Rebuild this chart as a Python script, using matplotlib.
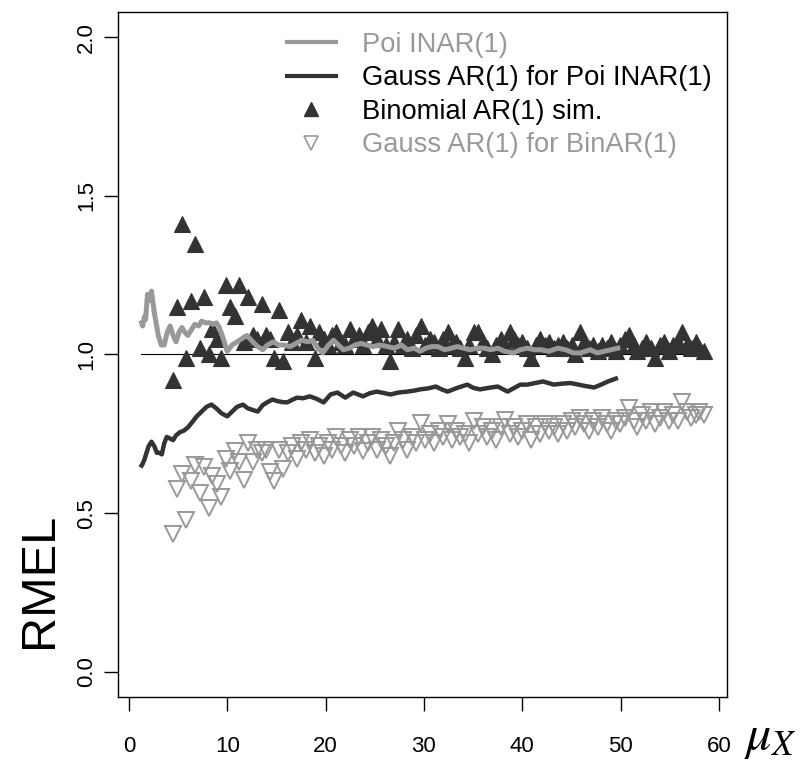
import matplotlib
matplotlib.use('Agg')
import numpy as np
import matplotlib.pyplot as plt
from matplotlib.lines import Line2D

plt.rcParams['font.family'] = ['Liberation Sans', 'DejaVu Sans']

# ---- data ------------------------------------------------------------------
# Poi INAR(1)
poi_x = [1.3, 1.4, 1.6, 1.7, 1.9, 2.1, 2.3, 2.6, 3.0, 3.3, 3.6, 3.9, 4.2, 4.5,
         4.8, 5.1, 5.4, 5.7, 6.0, 6.4, 6.7, 7.1, 7.4, 7.8, 8.2, 8.6, 8.9, 9.2,
         9.6, 10.0, 10.5, 11.0, 11.5, 12.0, 12.6, 13.1, 13.6, 14.1, 14.7, 15.2,
         15.7, 16.4, 17.0, 17.6, 18.2, 18.7, 19.2, 19.7, 20.3, 20.8, 21.3, 21.8,
         22.4, 23.0, 23.6, 24.2, 24.8, 25.5, 26.3, 27.0, 27.7, 28.3, 29.0, 29.6,
         30.2, 30.8, 31.4, 32.1, 32.8, 33.4, 34.0, 34.7, 35.4, 36.1, 36.8, 37.5,
         38.2, 39.1, 39.8, 40.5, 41.2, 41.9, 42.7, 43.6, 44.4, 45.2, 45.9, 46.9,
         47.6, 48.3, 49.0, 49.7]
poi_y = [1.10, 1.09, 1.12, 1.11, 1.19, 1.17, 1.20, 1.13, 1.06, 1.03, 1.03, 1.07,
         1.09, 1.06, 1.04, 1.07, 1.085, 1.07, 1.06, 1.08, 1.095, 1.09, 1.105,
         1.10, 1.10, 1.095, 1.10, 1.085, 1.05, 1.01, 1.03, 1.04, 1.05, 1.06,
         1.04, 1.025, 1.015, 1.03, 1.04, 1.03, 1.03, 1.025, 1.035, 1.045, 1.04,
         1.045, 1.02, 1.005, 1.03, 1.045, 1.03, 1.015, 1.02, 1.03, 1.035, 1.03,
         1.025, 1.03, 1.025, 1.02, 1.03, 1.015, 1.02, 1.01, 1.02, 1.025, 1.025,
         1.015, 1.02, 1.025, 1.02, 1.015, 1.02, 1.02, 1.015, 1.02, 1.01, 1.005,
         1.015, 1.02, 1.015, 1.015, 1.01, 1.02, 1.015, 1.005, 1.005, 1.015,
         1.005, 1.01, 1.015, 1.02]

# Gauss AR(1) for Poi INAR(1)
gpoi_x = [1.3, 1.4, 1.6, 1.8, 2.0, 2.3, 2.6, 2.85, 3.1, 3.35, 3.6, 3.85, 4.2,
          4.5, 4.8, 5.2, 5.6, 6.0, 6.4, 6.9, 7.4, 7.9, 8.4, 8.9, 9.4, 10.0,
          10.5, 11.0, 11.6, 12.1, 12.6, 13.1, 13.6, 14.1, 14.6, 15.1, 15.6,
          16.1, 16.6, 17.1, 17.7, 18.4, 19.1, 19.8, 20.5, 21.2, 22.0, 22.8,
          23.8, 24.5, 25.2, 26.0, 26.6, 27.4, 28.3, 29.0, 29.6, 30.4, 31.2,
          31.8, 32.4, 33.4, 34.4, 35.0, 35.7, 36.6, 37.5, 38.5, 39.2, 39.8,
          40.5, 41.3, 42.1, 43.2, 44.0, 44.9, 45.7, 46.5, 47.3, 48.0, 48.7, 49.5]
gpoi_y = [0.65, 0.655, 0.67, 0.69, 0.71, 0.725, 0.71, 0.69, 0.69, 0.685, 0.72,
          0.74, 0.735, 0.73, 0.745, 0.755, 0.76, 0.77, 0.785, 0.805, 0.82,
          0.835, 0.842, 0.83, 0.815, 0.805, 0.82, 0.835, 0.842, 0.83, 0.825,
          0.82, 0.84, 0.85, 0.858, 0.853, 0.85, 0.849, 0.857, 0.864, 0.862,
          0.868, 0.86, 0.849, 0.874, 0.88, 0.864, 0.88, 0.868, 0.878, 0.883,
          0.878, 0.874, 0.88, 0.883, 0.886, 0.89, 0.893, 0.899, 0.89, 0.883,
          0.895, 0.905, 0.895, 0.89, 0.895, 0.899, 0.883, 0.895, 0.905, 0.905,
          0.91, 0.915, 0.905, 0.908, 0.91, 0.905, 0.90, 0.896, 0.905, 0.915,
          0.924]

# binomial AR(1): simulated and Gauss AR(1) approximation
bin_x = [4.5, 4.9, 5.4, 5.8, 6.3, 6.7, 7.2, 7.6, 8.1, 8.5, 9.0, 9.4, 9.9, 10.3,
         10.8, 11.2, 11.7, 12.1, 12.6, 13.0, 13.5, 13.9, 14.4, 14.8, 15.3, 15.7,
         16.2, 16.6, 17.1, 17.5, 18.0, 18.4, 18.9, 19.3, 19.8, 20.2, 20.7, 21.1,
         21.6, 22.0, 22.5, 22.9, 23.4, 23.8, 24.3, 24.7, 25.2, 25.6, 26.1, 26.5,
         27.0, 27.4, 27.9, 28.3, 28.8, 29.2, 29.7, 30.1, 30.6, 31.0, 31.5, 31.9,
         32.4, 32.8, 33.3, 33.7, 34.2, 34.6, 35.1, 35.5, 36.0, 36.4, 36.9, 37.3,
         37.8, 38.2, 38.7, 39.1, 39.6, 40.0, 40.5, 40.9, 41.4, 41.8, 42.3, 42.7,
         43.2, 43.6, 44.1, 44.5, 45.0, 45.4, 45.9, 46.3, 46.8, 47.2, 47.7, 48.1,
         48.6, 49.0, 49.5, 49.9, 50.4, 50.8, 51.3, 51.7, 52.2, 52.6, 53.1, 53.5,
         54.0, 54.4, 54.9, 55.3, 55.8, 56.2, 56.7, 57.1, 57.6, 58.0, 58.5]
bin_sim = [0.92, 1.15, 1.41, 0.99, 1.17, 1.35, 1.02, 1.18, 1.00, 1.08, 1.05,
           0.99, 1.22, 1.15, 1.12, 1.22, 1.04, 1.18, 1.06, 1.05, 1.16, 1.06,
           1.05, 0.99, 1.14, 0.98, 1.07, 1.04, 1.06, 1.11, 1.04, 1.09, 0.99,
           1.07, 1.05, 1.03, 1.06, 1.07, 1.04, 1.03, 1.08, 1.05, 1.06, 1.03,
           1.07, 1.09, 1.05, 1.08, 1.03, 0.98, 1.04, 1.08, 1.03, 1.05, 1.02,
           1.06, 1.09, 1.03, 1.05, 1.04, 1.02, 1.05, 1.07, 1.03, 1.04, 1.02,
           0.99, 1.03, 1.07, 1.07, 1.04, 1.02, 1.00, 1.03, 1.05, 1.03, 1.07,
           1.05, 1.03, 1.04, 1.02, 0.99, 1.03, 1.05, 1.03, 1.04, 1.02, 1.03,
           1.04, 1.02, 1.03, 1.00, 1.07, 1.04, 1.02, 1.03, 1.01, 1.03, 1.02,
           1.04, 1.01, 1.03, 1.05, 1.06, 1.03, 1.01, 1.02, 1.04, 1.02, 0.99,
           1.03, 1.04, 1.01, 1.03, 1.04, 1.07, 1.03, 1.02, 1.04, 1.02, 1.01]
bin_gauss = [0.435, 0.577, 0.624, 0.477, 0.60, 0.653, 0.564, 0.646, 0.515,
             0.616, 0.593, 0.551, 0.672, 0.632, 0.695, 0.66, 0.605, 0.72, 0.66,
             0.70, 0.69, 0.70, 0.63, 0.60, 0.70, 0.64, 0.69, 0.71, 0.67, 0.72,
             0.70, 0.73, 0.69, 0.71, 0.68, 0.72, 0.70, 0.74, 0.71, 0.69, 0.73,
             0.71, 0.74, 0.695, 0.72, 0.74, 0.70, 0.73, 0.71, 0.68, 0.72, 0.76,
             0.73, 0.70, 0.74, 0.72, 0.785, 0.73, 0.75, 0.72, 0.76, 0.74, 0.78,
             0.73, 0.76, 0.74, 0.75, 0.72, 0.79, 0.75, 0.77, 0.74, 0.76, 0.73,
             0.77, 0.795, 0.75, 0.77, 0.74, 0.76, 0.78, 0.73, 0.77, 0.75, 0.78,
             0.76, 0.77, 0.75, 0.78, 0.76, 0.79, 0.77, 0.80, 0.78, 0.76, 0.79,
             0.77, 0.80, 0.78, 0.76, 0.79, 0.78, 0.80, 0.83, 0.79, 0.77, 0.81,
             0.79, 0.82, 0.78, 0.80, 0.82, 0.79, 0.81, 0.79, 0.85, 0.82, 0.80,
             0.81, 0.82, 0.81]

xticks = [0, 10, 20, 30, 40, 50, 60]
yticks = [0.0, 0.5, 1.0, 1.5, 2.0]
ytick_labels = ['0.0', '0.5', '1.0', '1.5', '2.0']

legend_labels = ['Poi INAR(1)', 'Gauss AR(1) for Poi INAR(1)',
                 'Binomial AR(1) sim.', 'Gauss AR(1) for BinAR(1)']

light = '#999999'
dark = '#333333'

fig = plt.figure(figsize=(8.03, 7.63), dpi=100)
ax = fig.add_axes([118/803., 1 - 697/763., (727-118)/803., (697-12)/763.])

# reference line at 1
ax.plot([1.2, 58.5], [1, 1], color='black', lw=0.8, zorder=1)

ax.plot(bin_x, bin_sim, ls='none', marker='^', ms=12, mfc=dark, mec=dark,
        mew=0.8, zorder=2)
ax.plot(bin_x, bin_gauss, ls='none', marker='v', ms=12, mfc='none', mec=light,
        mew=1.4, zorder=2)
ax.plot(gpoi_x, gpoi_y, color=dark, lw=3.2, solid_joinstyle='round', zorder=3)
ax.plot(poi_x, poi_y, color=light, lw=3.6, solid_joinstyle='round', zorder=3)

ax.set_xlim(-1.1, 60.8)
ax.set_ylim(-0.08, 2.08)
ax.set_xticks(xticks)
ax.set_yticks(yticks)
ax.set_yticklabels(ytick_labels, rotation=90, va='center')
ax.tick_params(direction='out', length=10, width=1, labelsize=16)
ax.tick_params(axis='y', pad=5)
ax.tick_params(axis='x', pad=18)
for s in ax.spines.values():
    s.set_linewidth(1.0)

# axis labels placed like the R mtext calls
fig.text(40/803., 1 - 580/763., 'RMEL', rotation=90, ha='center', va='center',
         fontsize=35)
fig.text(770/803., 1 - 738/763., r'$\mu_X$', ha='center', va='center',
         fontsize=36, math_fontfamily='stix')

handles = [Line2D([], [], color=light, lw=3),
           Line2D([], [], color=dark, lw=3),
           Line2D([], [], ls='none', marker='^', ms=10, color=dark),
           Line2D([], [], ls='none', marker='v', ms=10, mfc='none', mec=light, mew=1.2)]
leg = ax.legend(handles, legend_labels, loc='upper left',
                bbox_to_anchor=(287/803., 1 - 32/763.), bbox_transform=fig.transFigure,
                frameon=False, fontsize=19.7, handlelength=1.78, handletextpad=0.95,
                labelspacing=0.27, borderpad=0, borderaxespad=0)
for t, c in zip(leg.get_texts(), [light, 'black', 'black', light]):
    t.set_color(c)

fig.savefig('out.png', dpi=100)
